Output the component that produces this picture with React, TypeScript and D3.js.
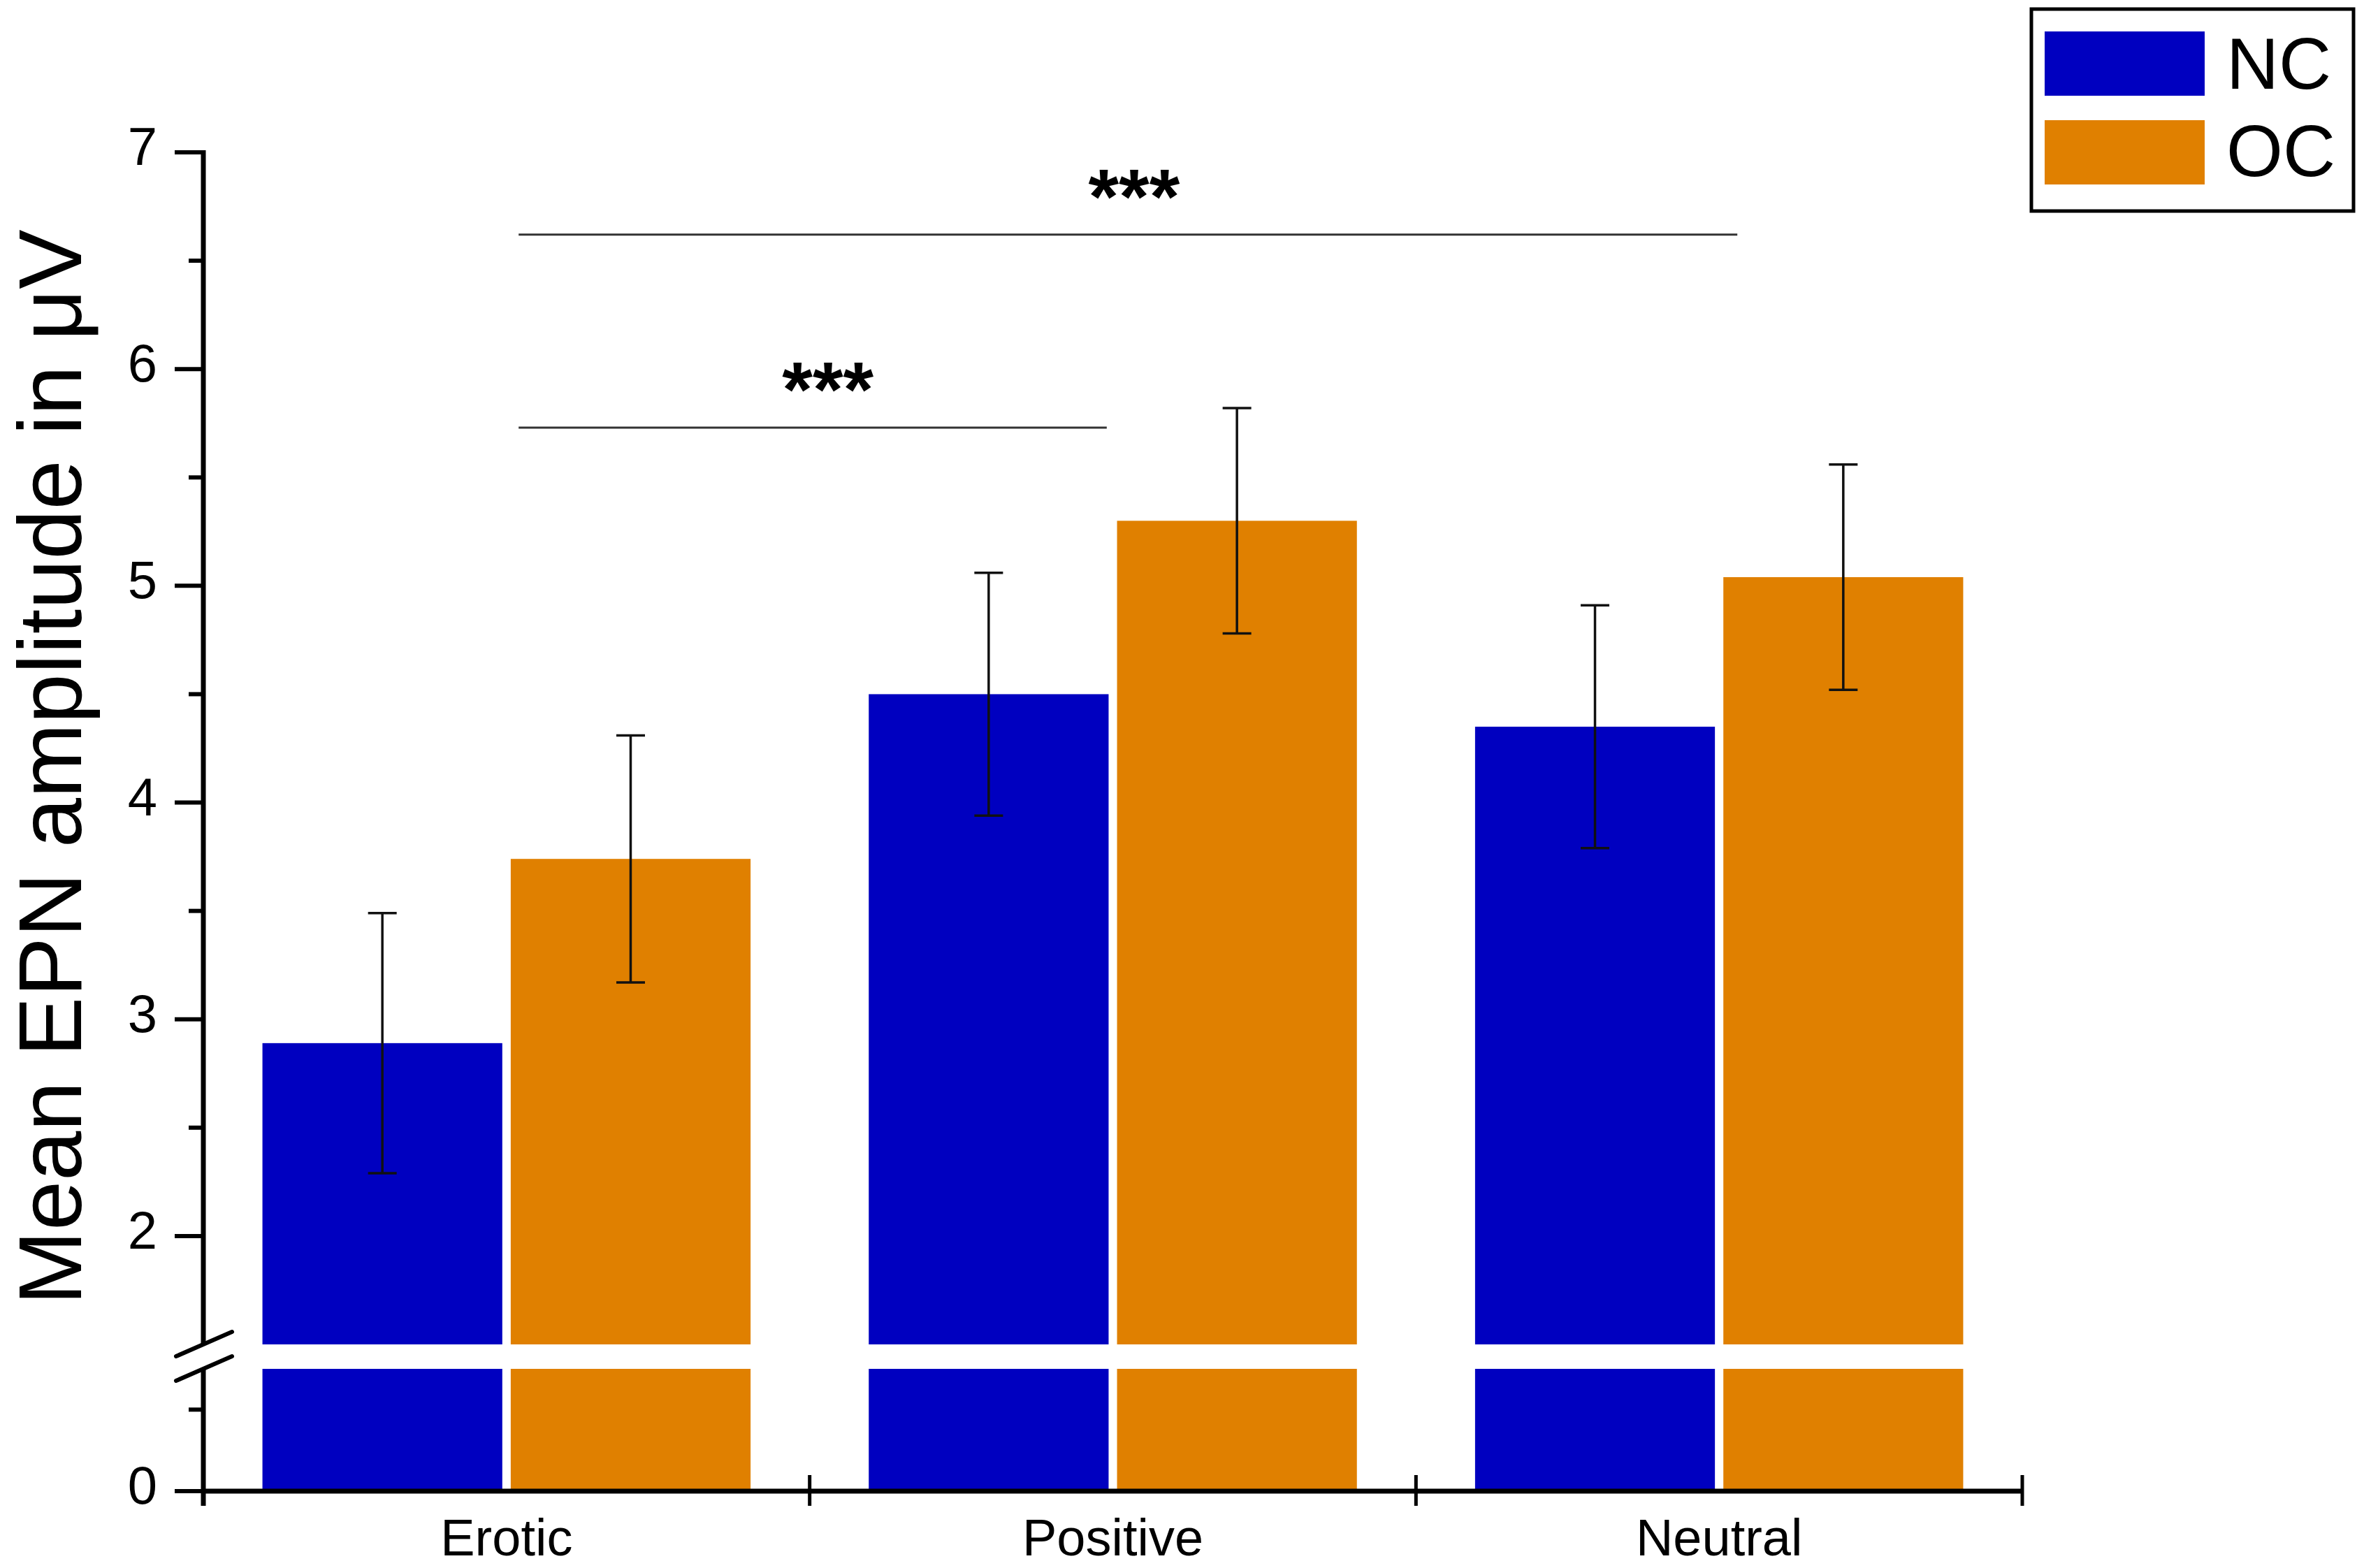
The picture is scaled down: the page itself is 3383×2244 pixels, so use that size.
import React from "react";
import * as d3 from "d3";

// ---------- data ----------
const categories = ["Erotic", "Positive", "Neutral"];
const seriesNames = ["NC", "OC"];
const seriesColors = ["#0000C0", "#E08000"];
const ncMeans = [2.89, 4.5, 4.35];
const ncErrors = [0.6, 0.56, 0.56];
const ocMeans = [3.74, 5.3, 5.04];
const ocErrors = [0.57, 0.52, 0.52];
const upperTicks = [2, 3, 4, 5, 6, 7];
const upperMinorTicks = [2.5, 3.5, 4.5, 5.5, 6.5];
const lowerTicks = [0];
const lowerMinorTicks = [0.5];
// significance brackets (x in category-index units, y in µV)
const sigStart = [0.02, 0.02];
const sigEnd = [0.99, 2.03];
const sigLevel = [5.73, 6.62];
const sigLabelPos = [0.53, 1.035];
const sigLabels = ["***", "***"];
const yLabel = "Mean EPN amplitude in μV";

const W = 3383;
const H = 2244;
const FONT = "'Liberation Sans', Arial, Helvetica, sans-serif";

export default function App() {
  const axisX = 291;
  const axisRight = 2894;
  const xBand = d3.scaleBand<string>().domain(categories).range([axisX, axisRight]).padding(0);
  const bw = xBand.bandwidth();
  const xSub = d3
    .scaleBand<string>()
    .domain(seriesNames)
    .range([0, bw])
    .paddingInner(0.034)
    .paddingOuter(0.238);
  const xCat = d3
    .scaleLinear()
    .domain([0, 2])
    .range([(xBand(categories[0]) as number) + bw / 2, (xBand(categories[2]) as number) + bw / 2]);

  const upperMin = 1.5;
  const lowerMax = 0.75;
  const yUp = d3.scaleLinear().domain([upperMin, 7]).range([1924, 218]);
  const yLo = d3.scaleLinear().domain([0, lowerMax]).range([2134, 1959]);

  const means = [ncMeans, ocMeans];
  const errs = [ncErrors, ocErrors];

  const majorLen = 41;
  const minorLen = 21;
  const capW = 41;

  return (
    <svg
      width={W}
      height={H}
      viewBox={`0 0 ${W} ${H}`}
      style={{ position: "absolute", left: 0, top: 0, background: "#fff" }}
      fontFamily={FONT}
    >
      <rect x={0} y={0} width={W} height={H} fill="#fff" />

      {/* bars */}
      {categories.map((c, ci) =>
        seriesNames.map((s, si) => {
          const x0 = (xBand(c) as number) + (xSub(s) as number);
          const v = means[si][ci];
          return (
            <g key={c + s}>
              <rect
                x={x0}
                y={yUp(v)}
                width={xSub.bandwidth()}
                height={yUp(upperMin) - yUp(v)}
                fill={seriesColors[si]}
              />
              <rect
                x={x0}
                y={yLo(lowerMax)}
                width={xSub.bandwidth()}
                height={yLo(0) - yLo(lowerMax)}
                fill={seriesColors[si]}
              />
            </g>
          );
        })
      )}

      {/* error bars */}
      {categories.map((c, ci) =>
        seriesNames.map((s, si) => {
          const cx = (xBand(c) as number) + (xSub(s) as number) + xSub.bandwidth() / 2;
          const v = means[si][ci];
          const e = errs[si][ci];
          const yt = yUp(v + e);
          const yb = yUp(v - e);
          return (
            <g key={"e" + c + s} stroke="#111" strokeWidth={3.5}>
              <line x1={cx} x2={cx} y1={yt} y2={yb} />
              <line x1={cx - capW / 2} x2={cx + capW / 2} y1={yt} y2={yt} />
              <line x1={cx - capW / 2} x2={cx + capW / 2} y1={yb} y2={yb} />
            </g>
          );
        })
      )}

      {/* significance brackets */}
      {sigLevel.map((lv, i) => (
        <g key={"sig" + i}>
          <line
            x1={xCat(sigStart[i])}
            x2={xCat(sigEnd[i])}
            y1={yUp(lv)}
            y2={yUp(lv)}
            stroke="#333"
            strokeWidth={3}
          />
          <text
            x={xCat(sigLabelPos[i])}
            y={yUp(lv) - 16}
            fontSize={112}
            fontWeight="bold"
            textAnchor="middle"
            fill="#000"
          >
            {sigLabels[i]}
          </text>
        </g>
      ))}

      {/* y axis line (two segments) */}
      <line x1={axisX} x2={axisX} y1={yUp(7) - 3} y2={yUp(upperMin)} stroke="#000" strokeWidth={7} />
      <line x1={axisX} x2={axisX} y1={yLo(lowerMax)} y2={yLo(0) + 21} stroke="#000" strokeWidth={7} />

      {/* break marks */}
      {[yUp(upperMin), yLo(lowerMax)].map((by, i) => (
        <line
          key={"brk" + i}
          x1={axisX - 39}
          y1={by + 17}
          x2={axisX + 41}
          y2={by - 18}
          stroke="#000"
          strokeWidth={6}
          strokeLinecap="round"
        />
      ))}

      {/* y ticks upper */}
      {upperTicks.map((t) => (
        <g key={"yt" + t}>
          <line x1={axisX - majorLen} x2={axisX} y1={yUp(t)} y2={yUp(t)} stroke="#000" strokeWidth={6} />
          <text x={225} y={yUp(t) + 18} fontSize={76} textAnchor="end" fill="#000">
            {t}
          </text>
        </g>
      ))}
      {upperMinorTicks.map((t) => (
        <line key={"ym" + t} x1={axisX - minorLen} x2={axisX} y1={yUp(t)} y2={yUp(t)} stroke="#000" strokeWidth={6} />
      ))}
      {/* y ticks lower */}
      {lowerTicks.map((t) => (
        <g key={"ylt" + t}>
          <line x1={axisX - majorLen} x2={axisX} y1={yLo(t)} y2={yLo(t)} stroke="#000" strokeWidth={6} />
          <text x={225} y={yLo(t) + 18} fontSize={76} textAnchor="end" fill="#000">
            {t}
          </text>
        </g>
      ))}
      {lowerMinorTicks.map((t) => (
        <line key={"ylm" + t} x1={axisX - minorLen} x2={axisX} y1={yLo(t)} y2={yLo(t)} stroke="#000" strokeWidth={6} />
      ))}

      {/* x axis */}
      <line x1={axisX} x2={axisRight} y1={yLo(0)} y2={yLo(0)} stroke="#000" strokeWidth={7} />
      {[...categories.map((c) => xBand(c) as number), axisRight].map((x, i) => (
        <line key={"xt" + i} x1={x} x2={x} y1={yLo(0) - 23} y2={yLo(0) + 21} stroke="#000" strokeWidth={5} />
      ))}
      {categories.map((c) => (
        <text
          key={"xl" + c}
          x={(xBand(c) as number) + bw / 2}
          y={2226}
          fontSize={74}
          textAnchor="middle"
          fill="#000"
        >
          {c}
        </text>
      ))}

      {/* y label */}
      <text
        transform={`translate(116, ${(yUp(7) + yLo(0)) / 2 - 78}) rotate(-90)`}
        fontSize={128}
        textAnchor="middle"
        fill="#000"
      >
        {yLabel}
      </text>

      {/* legend */}
      <rect x={2907} y={13} width={461} height={289} fill="#fff" stroke="#000" strokeWidth={5} />
      {seriesNames.map((s, i) => (
        <g key={"lg" + s}>
          <rect x={2926} y={45 + i * 127} width={229} height={92} fill={seriesColors[i]} />
          <text x={3186} y={127 + i * 125} fontSize={104} fill="#000">
            {s}
          </text>
        </g>
      ))}
    </svg>
  );
}
